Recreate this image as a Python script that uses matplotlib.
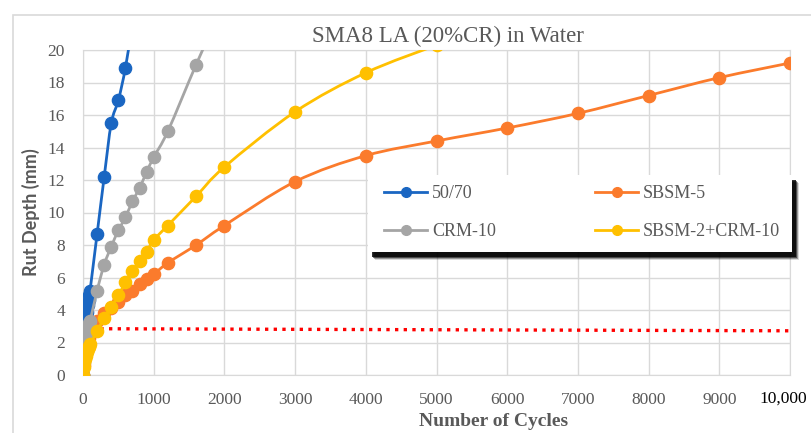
import matplotlib

matplotlib.use("Agg")
import matplotlib.pyplot as plt
from matplotlib.lines import Line2D
from matplotlib.patches import PathPatch, Rectangle
from matplotlib.path import Path


# rut depth (mm) against wheel passes
blue_x = [0, 10, 20, 30, 40, 50, 60, 70, 80, 90, 100, 200, 300, 400, 500, 600, 700]
blue_y = [0, 1.2, 2.0, 2.6, 3.1, 3.5, 3.9, 4.3, 4.6, 4.9, 5.2, 8.7, 12.2, 15.5, 16.9, 18.9, 21.6]

orange_x = [0, 10, 20, 30, 40, 50, 60, 70, 80, 90, 100, 200, 300, 400, 500, 600, 700, 800,
            900, 1000, 1200, 1600, 2000, 3000, 4000, 5000, 6000, 7000, 8000, 9000, 10000]
orange_y = [0, 0.6, 1.0, 1.3, 1.6, 1.8, 2.0, 2.2, 2.3, 2.5, 2.6, 3.3, 3.8, 4.1, 4.5, 4.9, 5.2, 5.6,
            5.9, 6.2, 6.9, 8.0, 9.2, 11.9, 13.5, 14.4, 15.2, 16.1, 17.2, 18.3, 19.2]

gray_x = [0, 10, 20, 30, 40, 50, 60, 70, 80, 90, 100, 200, 300, 400, 500, 600, 700, 800,
          900, 1000, 1200, 1600, 2000]
gray_y = [0, 0.8, 1.3, 1.7, 2.0, 2.3, 2.6, 2.8, 3.0, 3.2, 3.3, 5.2, 6.8, 7.9, 8.9, 9.7, 10.7, 11.5,
          12.5, 13.4, 15.0, 19.1, 23.0]

yellow_x = [0, 10, 20, 30, 40, 50, 60, 70, 80, 90, 100, 200, 300, 400, 500, 600, 700, 800,
            900, 1000, 1200, 1600, 2000, 3000, 4000, 5000]
yellow_y = [0, 0.5, 0.8, 1.0, 1.2, 1.4, 1.5, 1.6, 1.7, 1.8, 1.9, 2.7, 3.5, 4.2, 4.9, 5.7, 6.4, 7.0,
            7.6, 8.3, 9.2, 11.0, 12.8, 16.2, 18.6, 20.3]

# red dotted reference line
limit_x = [0, 10000]
limit_y = [2.85, 2.72]

series_names = ["50/70", "SBSM-5", "CRM-10", "SBSM-2+CRM-10"]
x_ticks = [0, 1000, 2000, 3000, 4000, 5000, 6000, 7000, 8000, 9000, 10000]
x_tick_labels = ["0", "1000", "2000", "3000", "4000", "5000", "6000", "7000", "8000", "9000", ""]
y_ticks = [0, 2, 4, 6, 8, 10, 12, 14, 16, 18, 20]

COLORS = ["#1A66C2", "#FB7B2C", "#A5A5A5", "#FFC000"]
TEXT = "#595959"
SERIF = ["Liberation Serif", "DejaVu Serif"]


def smooth_path(xs, ys):
    # Excel-style smoothed line: Catmull-Rom segments as cubic Beziers
    pts = list(zip(xs, ys))
    verts = [pts[0]]
    codes = [Path.MOVETO]
    n = len(pts)
    for i in range(n - 1):
        p0 = pts[i - 1] if i > 0 else pts[i]
        p1 = pts[i]
        p2 = pts[i + 1]
        p3 = pts[i + 2] if i + 2 < n else pts[i + 1]
        c1 = (p1[0] + (p2[0] - p0[0]) / 6, p1[1] + (p2[1] - p0[1]) / 6)
        c2 = (p2[0] - (p3[0] - p1[0]) / 6, p2[1] - (p3[1] - p1[1]) / 6)
        verts += [c1, c2, p2]
        codes += [Path.CURVE4] * 3
    return Path(verts, codes)


W, H = 811, 433
fig = plt.figure(figsize=(W / 100, H / 100), dpi=100)
ax = fig.add_axes([83 / W, 1 - 375 / H, 707 / W, 325 / H])

# chart border
fig.add_artist(Rectangle((13 / W, -0.1), 1.2, 1 - 15 / H + 0.1, transform=fig.transFigure,
                         facecolor="none", edgecolor="#D9D9D9", lw=1.2, zorder=0))

ax.plot(limit_x, limit_y, color="#FF0000", lw=2.4, linestyle=(0, (1, 1.6)), zorder=2)

all_x = [blue_x, orange_x, gray_x, yellow_x]
all_y = [blue_y, orange_y, gray_y, yellow_y]
for k, (xs, ys) in enumerate(zip(all_x, all_y)):
    ax.add_patch(PathPatch(smooth_path(xs, ys), facecolor="none", edgecolor=COLORS[k],
                           lw=2.0, zorder=3 + k))
    ax.plot(xs, ys, "o", color=COLORS[k], markersize=8.8, zorder=3 + k)

ax.set_xlim(0, 10000)
ax.set_ylim(0, 20)
ax.set_xticks(x_ticks)
ax.set_xticklabels(x_tick_labels)
ax.set_yticks(y_ticks)
ax.grid(True, color="#D9D9D9", lw=1.0)
ax.set_axisbelow(True)
for sp in ax.spines.values():
    sp.set_color("#D9D9D9")
ax.tick_params(axis="both", length=0, labelsize=12.5, labelcolor=TEXT)
ax.tick_params(axis="x", pad=12)
ax.tick_params(axis="y", pad=13)
for lbl in ax.get_xticklabels() + ax.get_yticklabels():
    lbl.set_family(SERIF)

ax.annotate("10,000", xy=(10000, 0), xycoords=("data", "axes fraction"), xytext=(-7, -24),
            textcoords="offset pixels", ha="center", va="center", fontsize=12.5,
            color="black", family=SERIF, annotation_clip=False)

ax.set_ylabel("Rut Depth (mm)", fontsize=13, fontweight="bold", color=TEXT, family="Lato")
ax.yaxis.set_label_coords(-0.061, 0.5)

fig.text(448 / W, 1 - 36 / H, "SMA8 LA (20%CR) in Water", ha="center", va="center",
         fontsize=16.5, color=TEXT, family=SERIF)
fig.text(494 / W, 1 - 422 / H, "Number of Cycles", ha="center", va="center",
         fontsize=14, fontweight="bold", color=TEXT, family=SERIF)

# legend box with drop shadow
bx0, bx1, by0, by1 = 368, 792, 175, 252
for off, a in [(7, 0.15), (6, 0.3), (5, 0.5), (4, 0.8)]:
    fig.add_artist(Rectangle(((bx0 + off) / W, 1 - (by1 + off + 1) / H), (bx1 - bx0) / W,
                             (by1 - by0) / H, transform=fig.transFigure,
                             facecolor="black", edgecolor="none", alpha=a, zorder=4))
fig.add_artist(Rectangle((bx0 / W, 1 - by1 / H), (bx1 - bx0) / W, (by1 - by0) / H,
                         transform=fig.transFigure, facecolor="white", edgecolor="none",
                         zorder=4.5))

handles = [Line2D([], [], color=c, lw=2.0, marker="o", markersize=7) for c in COLORS]
order = [0, 2, 1, 3]
leg = fig.legend([handles[i] for i in order], [series_names[i] for i in order],
                 loc="upper left", bbox_to_anchor=(384 / W, 1 - 185 / H), ncol=2,
                 frameon=False, borderpad=0, borderaxespad=0, handlelength=2.4,
                 handletextpad=0.25, columnspacing=5.5, labelspacing=1.17,
                 prop={"family": SERIF, "size": 13})
leg.set_zorder(6)
for t in leg.get_texts():
    t.set_color(TEXT)

fig.savefig("out.png", dpi=100)
